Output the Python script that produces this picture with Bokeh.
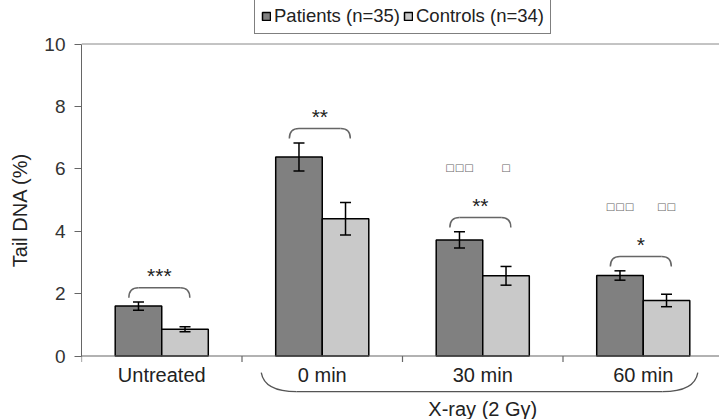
import numpy as np
from bokeh.plotting import figure
from bokeh.models import ColumnDataSource, Whisker, TeeHead, FixedTicker, Span, Legend, LegendItem, Label
from bokeh.embed import file_html
from bokeh.resources import INLINE

# ---- data ----
categories = ["Untreated", "0 min", "30 min", "60 min"]
patients = [1.60, 6.38, 3.72, 2.58]
patients_err = [0.13, 0.45, 0.26, 0.15]
controls = [0.86, 4.40, 2.57, 1.78]
controls_err = [0.08, 0.52, 0.30, 0.20]
significance = ["***", "**", "**", "*"]
vs_untreated_patients = ["", "", "\u25a1\u25a1\u25a1", "\u25a1\u25a1\u25a1"]
vs_untreated_controls = ["", "", "\u25a1", "\u25a1\u25a1"]
series_names = ["Patients (n=35)", "Controls (n=34)"]
group_label = "X-ray (2 G\u03b3)"
group_members = [1, 2, 3]
y_ticks = [0, 2, 4, 6, 8, 10]

# ---- style ----
FONT = "Liberation Sans"
C_PAT = "#808080"
C_CON = "#c9c9c9"
W = 719
H = 419
LEFT = 81
PX_X = 160.5          # pixels per category
PX_Y = 31.2           # pixels per unit
Y0_PX = 355.5         # pixel row of value 0
BAR_W = 0.29

x_end = (W - LEFT) / PX_X
y_start = -(H - Y0_PX) / PX_Y
y_end = 10 + (Y0_PX - 10 * PX_Y) / PX_Y

p = figure(width=W, height=H, x_range=(0, x_end), y_range=(y_start, y_end),
           output_backend="svg", toolbar_location=None, x_axis_location=None,
           min_border_left=LEFT, min_border_right=0, min_border_top=0, min_border_bottom=0)
p.grid.visible = False
p.outline_line_color = None
p.background_fill_color = "white"
p.border_fill_color = "white"


def add_text(x, y, txt, size="20px", color="#222222", font=FONT):
    if not txt:
        return
    p.add_layout(Label(x=x, y=y, text=txt, text_font=font, text_font_size=size,
                       text_font_style="normal", text_color=color,
                       text_align="center", text_baseline="middle"))


n = len(categories)
centers = np.arange(n) + 0.5
xp = centers - BAR_W / 2
xc = centers + BAR_W / 2

src = ColumnDataSource(dict(
    xp=xp, xc=xc, pat=patients, con=controls,
    pl=np.array(patients) - np.array(patients_err), pu=np.array(patients) + np.array(patients_err),
    cl=np.array(controls) - np.array(controls_err), cu=np.array(controls) + np.array(controls_err),
))

r_p = p.vbar(x="xp", top="pat", bottom=0, width=BAR_W, source=src,
             fill_color=C_PAT, line_color="black", line_width=1.5)
r_c = p.vbar(x="xc", top="con", bottom=0, width=BAR_W, source=src,
             fill_color=C_CON, line_color="black", line_width=1.5)

for base, lo, up in (("xp", "pl", "pu"), ("xc", "cl", "cu")):
    wk = Whisker(source=src, base=base, lower=lo, upper=up, dimension="height",
                 line_color="black", line_width=1.5, level="overlay",
                 upper_head=TeeHead(size=11, line_color="black", line_width=1.5),
                 lower_head=TeeHead(size=11, line_color="black", line_width=1.5))
    p.add_layout(wk)

# top line at 10
p.add_layout(Span(location=10, dimension="width", line_color="#888888", line_width=1))

# y axis
yax = p.yaxis[0]
yax.ticker = FixedTicker(ticks=y_ticks)
yax.bounds = (0, 10)
yax.axis_line_color = "#666666"
yax.major_tick_line_color = "#666666"
yax.major_tick_out = 7
yax.major_tick_in = 0
yax.minor_tick_line_color = None
yax.major_label_text_font = FONT
yax.major_label_text_font_size = "19px"
yax.major_label_text_color = "#333333"
yax.major_label_standoff = 9
yax.axis_label = "Tail DNA (%)"
yax.axis_label_text_font = FONT
yax.axis_label_text_font_size = "20px"
yax.axis_label_text_font_style = "normal"
yax.axis_label_text_color = "#222222"
yax.axis_label_standoff = 10

# bottom axis line and category ticks
tick_len = 6 / PX_Y
p.segment(x0=[0], y0=[0], x1=[x_end], y1=[0], line_color="#666666", line_width=1.2)
bounds = np.arange(n + 1)
p.segment(x0=bounds, y0=np.zeros(n + 1), x1=bounds, y1=-tick_len * np.ones(n + 1),
          line_color="#666666", line_width=1.2)

# group bracket under x-ray categories
gx0 = group_members[0] + 0.12
gx1 = group_members[-1] + 1 - 0.16
gy_top, gy_low = -0.53, -1.14
rx = 0.22
p.quadratic(x0=[gx0, gx1 - rx], y0=[gy_top, gy_low], x1=[gx0 + rx, gx1], y1=[gy_low, gy_top],
            cx=[gx0 + 0.02, gx1 - 0.02], cy=[gy_low, gy_low], line_color="#555555", line_width=1.3)
p.segment(x0=[gx0 + rx], y0=[gy_low], x1=[gx1 - rx], y1=[gy_low], line_color="#555555", line_width=1.3)

# significance brackets
err_top = np.maximum(np.array(patients) + np.array(patients_err), np.array(controls) + np.array(controls_err))
leg = 10 / PX_Y
bl = centers - 0.205
br = centers + 0.175
yt = err_top + 0.46
r = 0.06
p.quadratic(x0=np.concatenate([bl, br - r]), y0=np.concatenate([yt - leg, yt]),
            x1=np.concatenate([bl + r, br]), y1=np.concatenate([yt, yt - leg]),
            cx=np.concatenate([bl, br]), cy=np.concatenate([yt, yt]),
            line_color="#666666", line_width=1.5)
p.segment(x0=bl + r, y0=yt, x1=br - r, y1=yt, line_color="#666666", line_width=1.5)

# texts
for i in range(n):
    add_text(centers[i], -0.6, categories[i])
add_text((group_members[0] + group_members[-1] + 1) / 2, -1.7, group_label)
for i in range(n):
    add_text(centers[i] - 0.015, err_top[i] + 0.85, significance[i], size="21px")
for i in range(n):
    add_text(xp[i], err_top[i] + 2.05, vs_untreated_patients[i], size="10px",
             color="#666666", font="DejaVu Sans")
    add_text(xc[i], err_top[i] + 2.05, vs_untreated_controls[i], size="10px",
             color="#666666", font="DejaVu Sans")

# legend
legend = Legend(items=[LegendItem(label=series_names[0], renderers=[r_p]),
                       LegendItem(label=series_names[1], renderers=[r_c])],
                orientation="horizontal", location=(173, 385),
                glyph_width=10, glyph_height=10, label_standoff=3, spacing=3,
                padding=6, margin=0, label_height=18,
                label_text_font=FONT, label_text_font_size="18.5px", label_text_color="#222222",
                border_line_color="black", border_line_width=1, background_fill_alpha=1)
p.add_layout(legend)

open("out.html", "w").write(file_html(p, INLINE))
